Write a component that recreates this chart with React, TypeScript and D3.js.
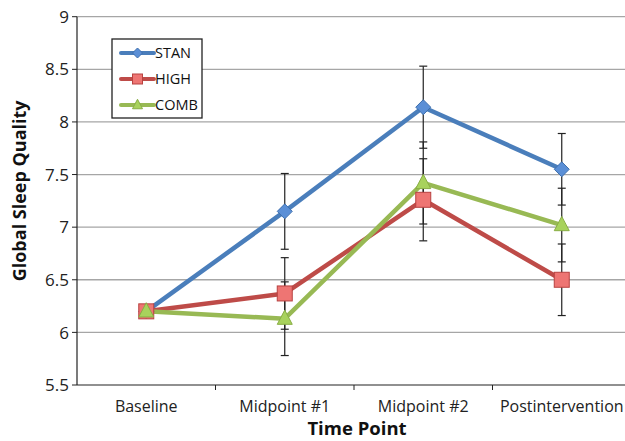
import React from "react";
import * as d3 from "d3";

const categories = ["Baseline", "Midpoint #1", "Midpoint #2", "Postintervention"];
const stanValues = [6.2, 7.15, 8.14, 7.55];
const highValues = [6.2, 6.37, 7.26, 6.5];
const combValues = [6.2, 6.13, 7.42, 7.02];
const stanErrors = [0, 0.36, 0.39, 0.34];
const highErrors = [0, 0.34, 0.39, 0.34];
const combErrors = [0, 0.35, 0.39, 0.35];
const yTicks = [5.5, 6, 6.5, 7, 7.5, 8, 8.5, 9];

const series = [
  { name: "STAN", values: stanValues, errors: stanErrors, line: "#4A7EBB", fill: "#5B8FD6", stroke: "#3E6FAD", shape: "diamond" },
  { name: "HIGH", values: highValues, errors: highErrors, line: "#BE4B48", fill: "#EE7573", stroke: "#B84240", shape: "square" },
  { name: "COMB", values: combValues, errors: combErrors, line: "#98B954", fill: "#A8D25C", stroke: "#89AE45", shape: "triangle" },
];

const font = "'Open Sans', 'Noto Sans', sans-serif";

const Marker = ({ shape, x, y, fill, stroke, s }: any) => {
  if (shape === "diamond") {
    return <path d={`M${x},${y - s}L${x + s},${y}L${x},${y + s}L${x - s},${y}Z`} fill={fill} stroke={stroke} strokeWidth={1} />;
  }
  if (shape === "square") {
    return <rect x={x - s} y={y - s} width={2 * s} height={2 * s} fill={fill} stroke={stroke} strokeWidth={1} />;
  }
  return <path d={`M${x},${y - s * 1.15}L${x + s},${y + s * 0.75}L${x - s},${y + s * 0.75}Z`} fill={fill} stroke={stroke} strokeWidth={1} />;
};

export default function App() {
  const width = 625;
  const height = 441;
  const left = 77;
  const right = 631;
  const top = 16.7;
  const bottom = 385;

  const x = d3.scaleBand().domain(categories).range([left, right]);
  const y = d3.scaleLinear().domain([5.5, 9]).range([bottom, top]);
  const cx = (c: string) => (x(c) as number) + x.bandwidth() / 2;

  const line = d3
    .line<number>()
    .x((d, i) => cx(categories[i]))
    .y((d) => y(d));

  return (
    <svg width={width} height={height} style={{ position: "absolute", left: 0, top: 0, background: "#fff" }}>
      {yTicks.slice(1).map((t) => (
        <line key={t} x1={left} x2={right} y1={y(t)} y2={y(t)} stroke="#A6A6A6" strokeWidth={1.3} />
      ))}
      <line x1={left} x2={left} y1={top} y2={bottom} stroke="#222" strokeWidth={1.2} />
      <line x1={left} x2={right} y1={bottom} y2={bottom} stroke="#222" strokeWidth={1.2} />
      {yTicks.map((t) => (
        <g key={"yt" + t}>
          <line x1={left - 5} x2={left} y1={y(t)} y2={y(t)} stroke="#222" />
          <text x={left - 8} y={y(t)} dy="0.36em" textAnchor="end" fontFamily={font} fontSize={17} fill="#222">
            {t}
          </text>
        </g>
      ))}
      {categories.map((c, i) => (
        <g key={c}>
          {i > 0 && <line x1={x(c)} x2={x(c)} y1={bottom} y2={bottom + 5} stroke="#222" />}
          <text x={cx(c)} y={412} textAnchor="middle" fontFamily={font} fontSize={16} fill="#222">
            {c}
          </text>
        </g>
      ))}
      <text x={357} y={435} textAnchor="middle" fontFamily={font} fontSize={18.5} fontWeight="bold" fill="#111">
        Time Point
      </text>
      <text
        transform={`translate(26,${(top + bottom) / 2 - 10}) rotate(-90)`}
        textAnchor="middle"
        fontFamily={font}
        fontSize={18}
        fontWeight="bold"
        fill="#111"
      >
        Global Sleep Quality
      </text>

      {series.map((s) => (
        <path key={s.name} d={line(s.values) as string} fill="none" stroke={s.line} strokeWidth={4.5} strokeLinejoin="round" />
      ))}
      {series.map((s) =>
        s.values.map((v, i) =>
          s.errors[i] > 0 ? (
            <g key={s.name + i} stroke="#222" strokeWidth={1.2}>
              <line x1={cx(categories[i])} x2={cx(categories[i])} y1={y(v + s.errors[i])} y2={y(v - s.errors[i])} />
              <line x1={cx(categories[i]) - 4} x2={cx(categories[i]) + 4} y1={y(v + s.errors[i])} y2={y(v + s.errors[i])} />
              <line x1={cx(categories[i]) - 4} x2={cx(categories[i]) + 4} y1={y(v - s.errors[i])} y2={y(v - s.errors[i])} />
            </g>
          ) : null
        )
      )}
      {series.map((s) =>
        s.values.map((v, i) => (
          <Marker key={s.name + "m" + i} shape={s.shape} x={cx(categories[i])} y={y(v)} fill={s.fill} stroke={s.stroke} s={7.5} />
        ))
      )}

      <rect x={112} y={39} width={90} height={79} fill="#fff" stroke="#222" strokeWidth={1.3} />
      {series.map((s, i) => {
        const ly = 53 + i * 26;
        return (
          <g key={"lg" + s.name}>
            <line x1={121} x2={154} y1={ly} y2={ly} stroke={s.line} strokeWidth={4} strokeLinecap="round" />
            <Marker shape={s.shape} x={137.5} y={ly} fill={s.fill} stroke={s.stroke} s={5} />
            <text x={155} y={ly} dy="0.36em" fontFamily={font} fontSize={14.5} fill="#111">
              {s.name}
            </text>
          </g>
        );
      })}
    </svg>
  );
}
